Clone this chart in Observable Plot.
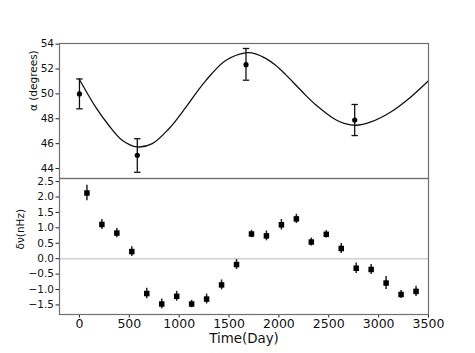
<!DOCTYPE html>
<html>
<head>
<meta charset="utf-8">
<script src="https://cdn.jsdelivr.net/npm/d3@7"></script>
<script src="https://cdn.jsdelivr.net/npm/@observablehq/plot@0.6"></script>
<style>
  html, body { margin: 0; padding: 0; background: #fff; }
  #chart { width: 475px; height: 353px; font-family: "DejaVu Sans", sans-serif; }
  #chart svg { display: block; overflow: visible; }
  #chart [aria-label="x-axis tick label"] { font-size: 12.5px; }
  #chart [aria-label="y-axis tick label"] { font-size: 10.5px; }
</style>
</head>
<body>
<div id="chart"></div>
<script>
// ---- Top panel: alpha (degrees) ----
const alphaDay = [0, 580, 1670, 2760];
const alphaVal = [50.0, 45.07, 52.35, 47.9];
const alphaLo  = [48.8, 43.7, 51.1, 46.65];
const alphaHi  = [51.2, 46.4, 53.65, 49.15];

// fitted curve
const fitDay = [0, 161, 294, 428, 579, 730, 897, 1004, 1064, 1265, 1466, 1667, 1767, 1867, 1967, 2068, 2169, 2269, 2369, 2487, 2570, 2654, 2771, 2922, 3122, 3323, 3500];
const fitVal = [51.16, 48.96, 47.48, 46.28, 45.74, 46.0, 47.2, 48.25, 48.9, 51.05, 52.68, 53.3, 53.22, 52.85, 52.3, 51.55, 50.72, 49.88, 49.12, 48.37, 47.92, 47.64, 47.48, 47.75, 48.55, 49.76, 51.05];

// ---- Bottom panel: delta nu (nHz) ----
const nuDay = [75, 225, 375, 525, 675, 825, 975, 1125, 1275, 1425, 1575, 1725, 1875, 2025, 2175, 2325, 2475, 2625, 2775, 2925, 3075, 3225, 3375];
const nuVal = [2.13, 1.11, 0.83, 0.23, -1.13, -1.47, -1.22, -1.47, -1.31, -0.85, -0.19, 0.80, 0.74, 1.10, 1.29, 0.54, 0.79, 0.33, -0.31, -0.35, -0.79, -1.16, -1.06];
const nuErr = [0.25, 0.16, 0.15, 0.16, 0.17, 0.16, 0.16, 0.12, 0.16, 0.16, 0.16, 0.12, 0.16, 0.17, 0.15, 0.13, 0.12, 0.16, 0.17, 0.16, 0.21, 0.13, 0.17];

const alphaTicks = [44, 46, 48, 50, 52, 54];
const nuTicks = [-1.5, -1.0, -0.5, 0.0, 0.5, 1.0, 1.5, 2.0, 2.5];
const xTicks = [0, 500, 1000, 1500, 2000, 2500, 3000, 3500];
const alphaLabel = "α (degrees)";
const nuLabel = "δν(nHz)";
const xLabel = "Time(Day)";

const alphaData = alphaDay.map((d, i) => ({day: d, v: alphaVal[i], lo: alphaLo[i], hi: alphaHi[i]}));
const fitData = fitDay.map((d, i) => ({day: d, v: fitVal[i]}));
const nuData = nuDay.map((d, i) => ({day: d, v: nuVal[i], lo: nuVal[i] - nuErr[i], hi: nuVal[i] + nuErr[i]}));

const capSymbol = {
  draw(ctx, size) {
    const r = Math.sqrt(size / Math.PI);
    ctx.moveTo(-r, 0);
    ctx.lineTo(r, 0);
  }
};

const xDomain = [-200, 3500];
const frameColor = "#707070";

const topPanel = Plot.plot({
  width: 475, height: 178,
  marginTop: 43, marginBottom: 0, marginLeft: 59, marginRight: 47,
  style: {fontFamily: "DejaVu Sans, sans-serif", background: "white", overflow: "visible"},
  x: {domain: xDomain, axis: null},
  y: {domain: [43.2, 54.05], axis: null},
  marks: [
    Plot.line(fitData, {x: "day", y: "v", curve: "catmull-rom", stroke: "#111", strokeWidth: 1.3}),
    Plot.ruleX(alphaData, {x: "day", y1: "lo", y2: "hi", stroke: "#111", strokeWidth: 1.3}),
    Plot.dot(alphaData, {x: "day", y: "lo", symbol: capSymbol, r: 3.2, stroke: "#111", strokeWidth: 1.3, fill: "none"}),
    Plot.dot(alphaData, {x: "day", y: "hi", symbol: capSymbol, r: 3.2, stroke: "#111", strokeWidth: 1.3, fill: "none"}),
    Plot.dot(alphaData, {x: "day", y: "v", r: 2.6, fill: "black", stroke: "none"}),
    Plot.axisY({ticks: alphaTicks, tickSize: 3.5, tickPadding: 2, fontSize: 10.5, label: null, stroke: "#222", color: "#111"}),
    Plot.text([alphaLabel], {text: d => d, frameAnchor: "left", rotate: -90, dx: -26, fontSize: 10.5, fill: "#111"}),
    Plot.frame({stroke: frameColor, strokeWidth: 1.2})
  ]
});

const bottomPanel = Plot.plot({
  width: 475, height: 175,
  marginTop: 0, marginBottom: 39, marginLeft: 59, marginRight: 47,
  style: {fontFamily: "DejaVu Sans, sans-serif", background: "transparent", overflow: "visible"},
  x: {domain: xDomain, axis: null},
  y: {domain: [-1.81, 2.6], axis: null},
  marks: [
    Plot.ruleY([0], {stroke: "#d0d0d0", strokeWidth: 1.5}),
    Plot.ruleX(nuData, {x: "day", y1: "lo", y2: "hi", stroke: "#222", strokeWidth: 1.5}),
    Plot.dot(nuData, {x: "day", y: "v", symbol: "square", r: 3.1, fill: "black", stroke: "none"}),
    Plot.axisY({ticks: nuTicks, tickFormat: d3.format(".1f"), tickSize: 3.5, tickPadding: 2, fontSize: 10.5, label: null, stroke: "#222", color: "#111"}),
    Plot.axisX({ticks: xTicks, tickFormat: d3.format("d"), tickSize: 3.5, tickPadding: 1.5, fontSize: 12.5, label: null, stroke: "#222", color: "#111"}),
    Plot.text([nuLabel], {text: d => d, frameAnchor: "left", rotate: -90, dx: -39, dy: 3, fontSize: 10.5, fill: "#111"}),
    Plot.text([xLabel], {text: d => d, frameAnchor: "bottom", dy: 28, fontSize: 13.4, fill: "#111"}),
    Plot.frame({stroke: frameColor, strokeWidth: 1.2})
  ]
});

const chart = document.getElementById("chart");
chart.appendChild(topPanel);
chart.appendChild(bottomPanel);
</script>
</body>
</html>
